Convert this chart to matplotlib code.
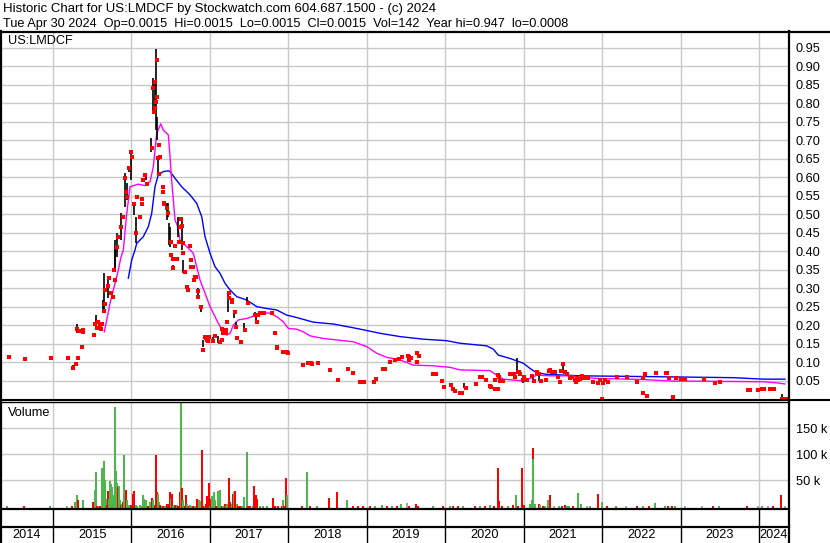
import matplotlib
matplotlib.use("Agg")
import matplotlib.pyplot as plt
from matplotlib.lines import Line2D

plt.rcParams['font.family'] = ['Liberation Sans', 'DejaVu Sans']

# ---------------- data ----------------
title1 = "Historic Chart for US:LMDCF by Stockwatch.com 604.687.1500 - (c) 2024"
title2 = ("Tue Apr 30 2024  Op=0.0015  Hi=0.0015  Lo=0.0015  Cl=0.0015  "
          "Vol=142  Year hi=0.947  lo=0.0008")
symbol = "US:LMDCF"
years = [2015, 2016, 2017, 2018, 2019, 2020, 2021, 2022, 2023, 2024]
year_labels = ["2014", "2015", "2016", "2017", "2018", "2019", "2020",
               "2021", "2022", "2023", "2024"]
date_start, date_end = 2014.324, 2024.383
price_ticks = [0.05, 0.10, 0.15, 0.20, 0.25, 0.30, 0.35, 0.40, 0.45, 0.50,
               0.55, 0.60, 0.65, 0.70, 0.75, 0.80, 0.85, 0.90, 0.95]
vol_ticks = [50000, 100000, 150000]
vol_tick_labels = ["50 k", "100 k", "150 k"]

close_dates = [
    2014.439, 2014.643, 2014.974, 2015.191, 2015.251, 2015.293, 2015.300, 2015.319,
    2015.330, 2015.370, 2015.379, 2015.386, 2015.520, 2015.540, 2015.560, 2015.575,
    2015.595, 2015.615, 2015.630, 2015.650, 2015.663, 2015.667, 2015.705, 2015.714,
    2015.739, 2015.761, 2015.778, 2015.790, 2015.812, 2015.833, 2015.863, 2015.889,
    2015.922, 2015.930, 2015.940, 2015.969, 2015.991, 2016.011, 2016.033, 2016.054,
    2016.075, 2016.109, 2016.131, 2016.140, 2016.151, 2016.173, 2016.202, 2016.262,
    2016.279, 2016.288, 2016.296, 2016.304, 2016.313, 2016.322, 2016.330, 2016.339,
    2016.352, 2016.355, 2016.364, 2016.398, 2016.405, 2016.411, 2016.415, 2016.457,
    2016.462, 2016.501, 2016.508, 2016.526, 2016.530, 2016.552, 2016.560, 2016.577,
    2016.606, 2016.619, 2016.636, 2016.640, 2016.654, 2016.658, 2016.683, 2016.705,
    2016.725, 2016.747, 2016.755, 2016.759, 2016.789, 2016.795, 2016.810, 2016.823,
    2016.845, 2016.850, 2016.883, 2016.909, 2016.938, 2016.945, 2016.960, 2016.976,
    2016.993, 2017.044, 2017.065, 2017.129, 2017.155, 2017.158, 2017.162, 2017.202,
    2017.206, 2017.214, 2017.240, 2017.248, 2017.278, 2017.286, 2017.316, 2017.333,
    2017.342, 2017.393, 2017.444, 2017.486, 2017.575, 2017.597, 2017.610, 2017.639,
    2017.690, 2017.792, 2017.830, 2017.852, 2017.858, 2017.928, 2017.954, 2017.979,
    2017.996, 2018.191, 2018.247, 2018.255, 2018.285, 2018.302, 2018.375, 2018.531,
    2018.637, 2018.765, 2018.821, 2018.914, 2018.965, 2019.092, 2019.118, 2019.211,
    2019.229, 2019.296, 2019.360, 2019.407, 2019.446, 2019.530, 2019.539, 2019.560,
    2019.637, 2019.640, 2019.670, 2019.848, 2019.879, 2019.956, 2019.985, 2020.070,
    2020.096, 2020.125, 2020.189, 2020.210, 2020.265, 2020.393, 2020.444, 2020.470,
    2020.520, 2020.571, 2020.584, 2020.631, 2020.635, 2020.673, 2020.677, 2020.690,
    2020.699, 2020.733, 2020.826, 2020.861, 2020.877, 2020.890, 2020.924, 2020.945,
    2020.954, 2020.988, 2021.005, 2021.047, 2021.103, 2021.136, 2021.167, 2021.174,
    2021.200, 2021.217, 2021.285, 2021.327, 2021.336, 2021.358, 2021.400, 2021.442,
    2021.464, 2021.477, 2021.506, 2021.528, 2021.549, 2021.591, 2021.613, 2021.655,
    2021.668, 2021.685, 2021.698, 2021.719, 2021.740, 2021.761, 2021.795, 2021.825,
    2021.881, 2021.952, 2021.974, 2021.995, 2022.008, 2022.037, 2022.079, 2022.187,
    2022.314, 2022.449, 2022.518, 2022.526, 2022.547, 2022.569, 2022.688, 2022.815,
    2022.832, 2022.857, 2022.900, 2022.943, 2023.003, 2023.057, 2023.300, 2023.440,
    2023.504, 2023.864, 2023.886, 2023.992, 2024.043, 2024.064, 2024.141, 2024.192,
    2024.298, 2024.341]
close_vals = [
    0.115, 0.110, 0.113, 0.113, 0.086, 0.097, 0.190, 0.113,
    0.185, 0.143, 0.183, 0.188, 0.175, 0.205, 0.193, 0.210,
    0.200, 0.190, 0.205, 0.240, 0.258, 0.296, 0.307, 0.328,
    0.287, 0.278, 0.350, 0.323, 0.413, 0.440, 0.467, 0.494,
    0.598, 0.560, 0.548, 0.625, 0.670, 0.656, 0.529, 0.449,
    0.548, 0.494, 0.542, 0.529, 0.593, 0.607, 0.582, 0.679,
    0.841, 0.778, 0.787, 0.859, 0.805, 0.818, 0.918, 0.652,
    0.609, 0.688, 0.656, 0.575, 0.562, 0.530, 0.528, 0.517,
    0.503, 0.426, 0.390, 0.380, 0.355, 0.416, 0.380, 0.380,
    0.425, 0.467, 0.487, 0.470, 0.395, 0.424, 0.345, 0.305,
    0.296, 0.415, 0.357, 0.377, 0.357, 0.323, 0.332, 0.330,
    0.293, 0.278, 0.251, 0.134, 0.170, 0.167, 0.161, 0.157,
    0.170, 0.159, 0.172, 0.156, 0.160, 0.190, 0.180, 0.188,
    0.180, 0.210, 0.287, 0.274, 0.269, 0.264, 0.237, 0.196,
    0.165, 0.156, 0.188, 0.260, 0.228, 0.210, 0.228, 0.233,
    0.235, 0.233, 0.181, 0.143, 0.140, 0.129, 0.129, 0.129,
    0.125, 0.092, 0.098, 0.098, 0.098, 0.096, 0.098, 0.080,
    0.053, 0.082, 0.072, 0.047, 0.047, 0.047, 0.055, 0.082,
    0.082, 0.102, 0.107, 0.109, 0.116, 0.118, 0.107, 0.113,
    0.127, 0.102, 0.118, 0.069, 0.069, 0.051, 0.033, 0.039,
    0.029, 0.024, 0.018, 0.018, 0.030, 0.042, 0.062, 0.062,
    0.053, 0.036, 0.035, 0.029, 0.053, 0.029, 0.066, 0.060,
    0.049, 0.049, 0.069, 0.069, 0.069, 0.060, 0.075, 0.074,
    0.069, 0.053, 0.060, 0.054, 0.064, 0.049, 0.072, 0.075,
    0.069, 0.051, 0.053, 0.076, 0.080, 0.075, 0.073, 0.062,
    0.048, 0.077, 0.096, 0.075, 0.068, 0.057, 0.062, 0.053,
    0.048, 0.059, 0.054, 0.055, 0.064, 0.059, 0.059, 0.059,
    0.048, 0.045, 0.054, 0.001, 0.044, 0.053, 0.048, 0.062,
    0.062, 0.048, 0.057, 0.018, 0.068, 0.009, 0.071, 0.072,
    0.072, 0.057, 0.008, 0.059, 0.055, 0.055, 0.055, 0.044,
    0.047, 0.026, 0.026, 0.026, 0.029, 0.029, 0.029, 0.029,
    0.0015, 0.0015]

bar_dates = [2015.251, 2015.310, 2015.527, 2015.552, 2015.641, 2015.654, 2015.701,
             2015.790, 2015.794, 2015.820, 2015.867, 2015.922, 2015.940, 2015.969,
             2015.991, 2016.033, 2016.054, 2016.186, 2016.249, 2016.279, 2016.296,
             2016.317, 2016.330, 2016.335, 2016.457, 2016.466, 2016.483, 2016.491,
             2016.526, 2016.598, 2016.640, 2016.661, 2016.845, 2016.883, 2016.909,
             2017.036, 2017.107, 2017.227, 2017.307, 2017.329, 2017.435, 2017.477,
             2017.571, 2017.588, 2019.551, 2019.956, 2020.240, 2020.911, 2020.988,
             2021.123, 2021.200, 2021.272, 2021.506, 2024.290]
bar_hi = [0.092, 0.204, 0.180, 0.228, 0.270, 0.341, 0.323,
          0.404, 0.431, 0.450, 0.503, 0.612, 0.585, 0.630,
          0.674, 0.531, 0.493, 0.612, 0.707, 0.869, 0.860,
          0.947, 0.763, 0.647, 0.530, 0.530, 0.476, 0.467,
          0.363, 0.492, 0.490, 0.377, 0.300, 0.255, 0.161,
          0.170, 0.172, 0.282, 0.237, 0.210, 0.206, 0.276,
          0.237, 0.228, 0.120, 0.054, 0.044, 0.111, 0.053,
          0.070, 0.066, 0.057, 0.096, 0.014]
bar_lo = [0.080, 0.179, 0.170, 0.196, 0.235, 0.233, 0.274,
          0.350, 0.350, 0.385, 0.431, 0.520, 0.539, 0.615,
          0.593, 0.499, 0.423, 0.593, 0.669, 0.777, 0.790,
          0.728, 0.700, 0.612, 0.486, 0.494, 0.418, 0.413,
          0.353, 0.440, 0.404, 0.341, 0.278, 0.237, 0.143,
          0.152, 0.152, 0.237, 0.220, 0.192, 0.188, 0.258,
          0.224, 0.210, 0.107, 0.049, 0.030, 0.075, 0.044,
          0.053, 0.049, 0.051, 0.071, 0.000]

ma_short_dates = [2015.654, 2015.685, 2015.727, 2015.790, 2015.833, 2015.863, 2015.896,
                  2015.940, 2015.982, 2016.087, 2016.173, 2016.237, 2016.279, 2016.322,
                  2016.373, 2016.406, 2016.470, 2016.492, 2016.513, 2016.534, 2016.555,
                  2016.585, 2016.619, 2016.705, 2016.789, 2016.832, 2016.874, 2016.938,
                  2017.002, 2017.044, 2017.107, 2017.171, 2017.214, 2017.257, 2017.299,
                  2017.362, 2017.469, 2017.597, 2017.681, 2017.767, 2017.852, 2017.936,
                  2018.000, 2018.107, 2018.191, 2018.276, 2018.446, 2018.829, 2018.999,
                  2019.127, 2019.254, 2019.424, 2019.593, 2019.848, 2020.061, 2020.189,
                  2020.571, 2020.657, 2020.741, 2020.954, 2021.081, 2021.167, 2021.336,
                  2021.591, 2021.719, 2021.932, 2022.526, 2022.866, 2024.056, 2024.226,
                  2024.332]
ma_short_vals = [0.183, 0.215, 0.260, 0.314, 0.350, 0.382, 0.404,
                 0.503, 0.575, 0.582, 0.578, 0.589, 0.629, 0.719,
                 0.745, 0.728, 0.715, 0.656, 0.590, 0.540, 0.485,
                 0.470, 0.431, 0.413, 0.395, 0.359, 0.323, 0.287,
                 0.251, 0.233, 0.206, 0.183, 0.174, 0.179, 0.201,
                 0.215, 0.219, 0.228, 0.235, 0.233, 0.224, 0.210,
                 0.192, 0.190, 0.183, 0.172, 0.165, 0.156, 0.143,
                 0.125, 0.114, 0.107, 0.093, 0.091, 0.087, 0.080,
                 0.078, 0.066, 0.055, 0.051, 0.057, 0.066, 0.064,
                 0.064, 0.060, 0.057, 0.054, 0.050, 0.048, 0.045,
                 0.042]

ma_long_dates = [2015.960, 2016.003, 2016.045, 2016.067, 2016.151, 2016.215, 2016.258,
                 2016.300, 2016.342, 2016.406, 2016.470, 2016.492, 2016.555, 2016.640,
                 2016.747, 2016.832, 2016.896, 2016.938, 2017.002, 2017.065, 2017.129,
                 2017.193, 2017.257, 2017.342, 2017.469, 2017.597, 2017.724, 2017.852,
                 2017.979, 2018.064, 2018.149, 2018.319, 2018.574, 2018.872, 2019.169,
                 2019.424, 2019.721, 2020.019, 2020.189, 2020.529, 2020.613, 2020.677,
                 2020.826, 2020.996, 2021.081, 2021.167, 2021.294, 2021.719, 2022.526,
                 2023.673, 2024.056, 2024.332]
ma_long_vals = [0.328, 0.377, 0.404, 0.422, 0.440, 0.467, 0.503,
                0.575, 0.607, 0.616, 0.618, 0.616, 0.598, 0.575,
                0.553, 0.530, 0.494, 0.440, 0.395, 0.359, 0.341,
                0.314, 0.296, 0.278, 0.269, 0.251, 0.246, 0.242,
                0.228, 0.224, 0.219, 0.209, 0.204, 0.192, 0.179,
                0.170, 0.163, 0.159, 0.152, 0.145, 0.136, 0.120,
                0.111, 0.098, 0.084, 0.072, 0.068, 0.064, 0.062,
                0.059, 0.055, 0.055]

vol_dates = [
    2014.417, 2014.630, 2014.961, 2015.174, 2015.238, 2015.280, 2015.301, 2015.323,
    2015.378, 2015.514, 2015.535, 2015.548, 2015.565, 2015.586, 2015.599, 2015.620,
    2015.633, 2015.646, 2015.658, 2015.671, 2015.684, 2015.697, 2015.709, 2015.726,
    2015.739, 2015.752, 2015.769, 2015.786, 2015.799, 2015.811, 2015.824, 2015.837,
    2015.850, 2015.862, 2015.879, 2015.892, 2015.905, 2015.918, 2015.930, 2015.943,
    2015.956, 2015.973, 2015.994, 2016.015, 2016.037, 2016.054, 2016.075, 2016.109,
    2016.130, 2016.151, 2016.164, 2016.181, 2016.198, 2016.215, 2016.232, 2016.245,
    2016.262, 2016.279, 2016.296, 2016.309, 2016.321, 2016.338, 2016.355, 2016.368,
    2016.385, 2016.406, 2016.428, 2016.449, 2016.470, 2016.487, 2016.504, 2016.521,
    2016.534, 2016.555, 2016.576, 2016.598, 2016.619, 2016.632, 2016.644, 2016.661,
    2016.683, 2016.695, 2016.712, 2016.729, 2016.746, 2016.768, 2016.789, 2016.810,
    2016.831, 2016.848, 2016.865, 2016.882, 2016.899, 2016.916, 2016.933, 2016.950,
    2016.967, 2016.984, 2017.001, 2017.018, 2017.031, 2017.048, 2017.065, 2017.082,
    2017.099, 2017.116, 2017.133, 2017.150, 2017.167, 2017.188, 2017.205, 2017.222,
    2017.239, 2017.256, 2017.278, 2017.294, 2017.311, 2017.324, 2017.341, 2017.363,
    2017.384, 2017.405, 2017.439, 2017.469, 2017.490, 2017.511, 2017.545, 2017.567,
    2017.584, 2017.601, 2017.639, 2017.681, 2017.724, 2017.809, 2017.830, 2017.873,
    2017.915, 2017.928, 2017.945, 2017.966, 2017.979, 2018.170, 2018.234, 2018.276,
    2018.361, 2018.518, 2018.616, 2018.744, 2018.829, 2018.893, 2018.956, 2019.041,
    2019.105, 2019.190, 2019.254, 2019.318, 2019.381, 2019.437, 2019.509, 2019.543,
    2019.628, 2019.658, 2019.849, 2019.968, 2020.061, 2020.104, 2020.168, 2020.231,
    2020.380, 2020.444, 2020.508, 2020.571, 2020.622, 2020.669, 2020.686, 2020.720,
    2020.805, 2020.869, 2020.899, 2020.933, 2020.975, 2021.005, 2021.081, 2021.103,
    2021.120, 2021.120, 2021.145, 2021.192, 2021.209, 2021.243, 2021.273, 2021.315,
    2021.336, 2021.387, 2021.455, 2021.485, 2021.527, 2021.549, 2021.583, 2021.634,
    2021.689, 2021.732, 2021.804, 2021.847, 2021.948, 2021.995, 2022.059, 2022.178,
    2022.305, 2022.441, 2022.526, 2022.603, 2022.675, 2022.803, 2022.845, 2022.887,
    2022.930, 2023.058, 2023.270, 2023.419, 2023.495, 2023.844, 2023.993, 2024.035,
    2024.120, 2024.175, 2024.277, 2024.332]
vol_k = [
    1, 1, 1, 1, 1, 7.9, 20.8, 11.1,
    11.1, 8, 30.6, 66.2, 1, 1, 1, 72.7,
    72.7, 87, 50, 14.4, 1.4, 29.3, 14.4, 48.1,
    43.5, 37.1, 20.8, 191.4, 68.2, 44.8, 37.1, 38.4,
    11.1, 2.7, 4.6, 8.6, 98.7, 7.9, 31.2, 12.4,
    2.7, 2.7, 2.7, 24.1, 29.3, 2.7, 1, 2.7,
    1, 20.8, 14.4, 11.1, 1, 1, 7.9, 4.6,
    16.3, 11.1, 2.7, 98.7, 27.3, 24.1, 7.9, 1.4,
    1, 1, 1, 4.6, 3.3, 26.7, 14.4, 24.1,
    1, 2.7, 1.4, 1, 27.3, 200, 35.8, 11.1,
    1, 20.8, 4.6, 1, 1.4, 1, 1, 1,
    13.1, 4.6, 11.1, 9.8, 108.4, 1, 1, 4.6,
    18.9, 44.8, 1, 14.4, 19.5, 27.3, 11.1, 1,
    29.3, 1, 31.9, 1, 1, 4.6, 1, 4.6,
    54.6, 7.9, 3.3, 22.8, 27.3, 29.3, 4.6, 1,
    1, 1, 17.6, 105.1, 1, 1, 1, 38.3,
    20.8, 14.4, 1, 1, 1, 15.6, 1, 1,
    1, 11.1, 1, 55.2, 20.8, 1, 66.2, 1,
    1, 15.6, 27.3, 12.4, 1, 1, 1, 1,
    1, 1.4, 1, 1, 1, 4.6, 6.6, 1,
    4.6, 1, 1, 1, 1, 1, 1, 1,
    1, 1, 1, 1.4, 1, 72.7, 9.8, 1,
    1, 1.4, 20.8, 1, 72.7, 1.4, 4.6, 11.1,
    111.6, 90.2, 4.6, 4.6, 1.4, 1, 1, 11.1,
    20.8, 1, 1, 1, 1.4, 1, 1, 1,
    25.4, 4.6, 1, 1, 22.8, 7.9, 1, 1,
    1, 1, 1, 1, 6, 1, 1, 1,
    1, 1, 1, 1, 1, 1, 1, 1,
    1, 1, 20.8, 1]
vol_dir = [
    'u', 'd', 'u', 'n', 'd', 'u', 'u', 'd',
    'u', 'd', 'u', 'u', 'd', 'u', 'd', 'u',
    'u', 'u', 'u', 'u', 'd', 'd', 'u', 'u',
    'u', 'u', 'u', 'u', 'u', 'u', 'd', 'u',
    'u', 'd', 'u', 'd', 'u', 'u', 'd', 'u',
    'u', 'u', 'd', 'd', 'd', 'u', 'u', 'u',
    'u', 'u', 'u', 'u', 'u', 'd', 'u', 'u',
    'd', 'u', 'd', 'd', 'd', 'u', 'u', 'd',
    'u', 'd', 'u', 'd', 'd', 'd', 'u', 'd',
    'u', 'd', 'u', 'd', 'd', 'u', 'd', 'u',
    'd', 'd', 'u', 'd', 'u', 'u', 'd', 'u',
    'd', 'd', 'u', 'u', 'd', 'd', 'u', 'd',
    'd', 'd', 'u', 'd', 'u', 'u', 'u', 'd',
    'u', 'u', 'u', 'd', 'u', 'd', 'u', 'u',
    'd', 'd', 'u', 'd', 'u', 'd', 'u', 'd',
    'd', 'u', 'u', 'u', 'd', 'd', 'u', 'd',
    'd', 'd', 'u', 'u', 'u', 'd', 'd', 'd',
    'd', 'u', 'd', 'd', 'u', 'd', 'u', 'd',
    'u', 'd', 'd', 'u', 'd', 'd', 'd', 'd',
    'u', 'u', 'd', 'u', 'd', 'u', 'n', 'd',
    'd', 'd', 'u', 'd', 'u', 'd', 'd', 'u',
    'd', 'u', 'd', 'u', 'd', 'd', 'd', 'd',
    'u', 'd', 'u', 'd', 'd', 'd', 'u', 'u',
    'd', 'u', 'u', 'd', 'u', 'd', 'u', 'u',
    'd', 'n', 'u', 'd', 'd', 'u', 'u', 'd',
    'u', 'u', 'n', 'u', 'd', 'u', 'd', 'u',
    'n', 'd', 'u', 'd', 'u', 'u', 'd', 'd',
    'u', 'n', 'n', 'd', 'u', 'd', 'n', 'u',
    'n', 'd', 'd', 'n']

# ---------------- styling ----------------
W, H = 830, 543
fig = plt.figure(figsize=(W / 100, H / 100), dpi=100)
fig.patch.set_facecolor('white')

def fx(x):
    return x / W

def fy(y):
    return 1 - y / H

GRID = '#c8c8c8'
RED = '#ff0000'
GREEN = '#4cb84c'
GRAY = '#a8a8a8'
FS = 9.2

plot_w = fx(789)
ax = fig.add_axes([0, fy(399.5), plot_w, fy(33) - fy(399.5)])
axv = fig.add_axes([0, fy(509), plot_w, fy(402) - fy(509)])
axy = fig.add_axes([0, 0, plot_w, fy(509)])

# price panel
ax.set_xlim(date_start, date_end)
ax.set_ylim(0, 0.9905)
for yv in price_ticks:
    ax.axhline(yv, color=GRID, lw=1, zorder=0)
for xv in years:
    ax.axvline(xv, color=GRID, lw=1, zorder=0)
ax.plot(ma_long_dates, ma_long_vals, color='#0000ff', lw=1.0, zorder=2)
ax.plot(ma_short_dates, ma_short_vals, color='#ff00ff', lw=1.0, zorder=2)
ax.vlines(bar_dates, bar_lo, bar_hi, color='black', lw=1.2, zorder=3)
ax.plot(close_dates, close_vals, linestyle='none', marker='s', ms=2.4,
        mew=0, color=RED, zorder=4)
ax.yaxis.tick_right()
ax.set_yticks(price_ticks)
ax.set_yticklabels([f"{v:.2f}" for v in price_ticks])
ax.tick_params(axis='y', length=0, pad=5, labelsize=FS)
ax.set_xticks([])
for s in ax.spines.values():
    s.set_visible(False)
ax.text(fx(8) / plot_w, (399.5 - 41) / 366.5, symbol, transform=ax.transAxes,
        fontsize=FS, va='center', ha='left')

# volume panel
VOL_FLOOR = -5500
axv.set_xlim(date_start, date_end)
axv.set_ylim(VOL_FLOOR, 201000)
for yv in vol_ticks:
    axv.axhline(yv, color=GRID, lw=1, zorder=0)
for xv in years:
    axv.axvline(xv, color=GRID, lw=1, zorder=0)
cmap = {'u': GREEN, 'd': RED, 'n': GRAY}
heights = [v * 1000 - VOL_FLOOR for v in vol_k]
axv.bar(vol_dates, heights, bottom=VOL_FLOOR, width=0.024,
        color=[cmap[d] for d in vol_dir], linewidth=0, zorder=2)
axv.yaxis.tick_right()
axv.set_yticks(vol_ticks)
axv.set_yticklabels(vol_tick_labels)
axv.tick_params(axis='y', length=0, pad=5, labelsize=FS)
axv.set_xticks([])
for s in axv.spines.values():
    s.set_visible(False)
axv.text(fx(8) / plot_w, (509 - 413) / 107, "Volume", transform=axv.transAxes,
         fontsize=FS, va='center', ha='left')

# year strip
axy.set_xlim(date_start, date_end)
axy.set_ylim(0, 1)
axy.axis('off')
for xv in years:
    axy.axvline(xv, color='black', lw=1)
bounds = [date_start] + years + [date_end]
for i, lab in enumerate(year_labels):
    axy.text((bounds[i] + bounds[i + 1]) / 2, (543 - 535) / 34, lab,
             ha='center', va='center', fontsize=FS)

# frame lines (figure coordinates)
def hline(y, x0, x1, lw):
    fig.add_artist(Line2D([fx(x0), fx(x1)], [fy(y), fy(y)], color='black',
                          lw=lw, transform=fig.transFigure))

def vline(x, y0, y1, lw):
    fig.add_artist(Line2D([fx(x), fx(x)], [fy(y0), fy(y1)], color='black',
                          lw=lw, transform=fig.transFigure))

hline(31.5, 0, 830, 1.6)
hline(399.5, 0, 830, 1.5)
hline(402, 0, 789, 1.0)
hline(509, 0, 789, 1.6)
hline(527, 0, 789, 1.6)
vline(1, 31, 543, 1.6)
vline(789, 31, 543, 1.6)

fig.text(fx(3), fy(9), title1, fontsize=9.5, va='center', ha='left')
fig.text(fx(3), fy(23.5), title2, fontsize=FS, va='center', ha='left')

fig.savefig('out.png', dpi=100, facecolor='white')
